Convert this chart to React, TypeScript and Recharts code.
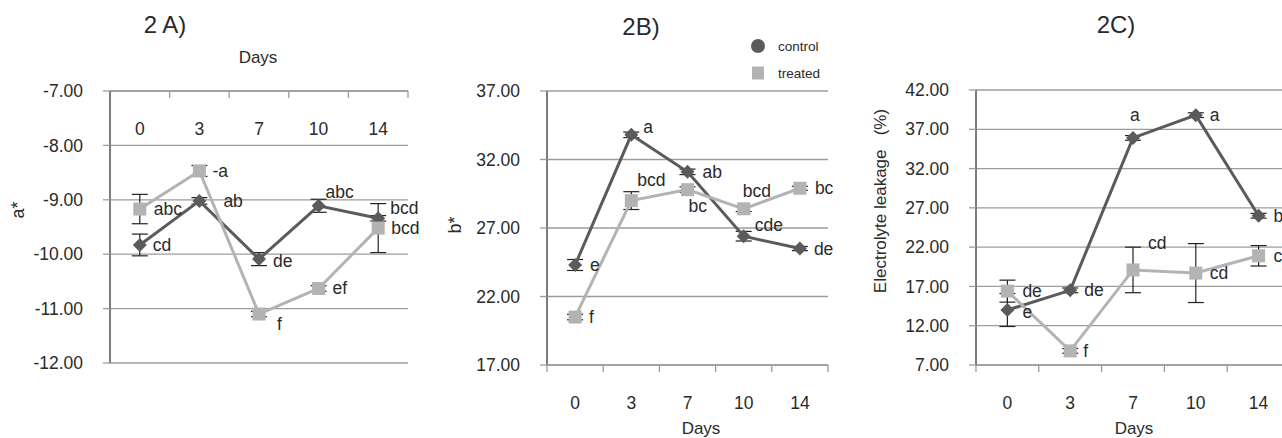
import React from "react";
import { LineChart, Line, XAxis, YAxis, CartesianGrid, ErrorBar, Legend } from "recharts";

// categories
const days = ["0", "3", "7", "10", "14"];
const seriesNames = ["control", "treated"];

// 2A) a*
const aControl = [-9.83, -9.02, -10.09, -9.11, -9.34];
const aTreated = [-9.17, -8.47, -11.1, -10.63, -9.52];
const aControlErr = [0.2, 0.06, 0.12, 0.12, 0.05];
const aTreatedErr = [0.27, 0.1, 0.05, 0.05, 0.45];
const aControlLetters = ["cd", "ab", "de", "abc", "bcd"];
const aTreatedLetters = ["abc", "-a", "f", "ef", "bcd"];
const aTicks = [-12, -11, -10, -9, -8, -7];

// 2B) b*
const bControl = [24.3, 33.8, 31.1, 26.4, 25.5];
const bTreated = [20.5, 29.0, 29.8, 28.4, 29.9];
const bControlErr = [0.4, 0.2, 0.2, 0.35, 0.15];
const bTreatedErr = [0.2, 0.65, 0.2, 0.2, 0.15];
const bControlLetters = ["e", "a", "ab", "cde", "de"];
const bTreatedLetters = ["f", "bcd", "bc", "bcd", "bc"];
const bTicks = [17, 22, 27, 32, 37];

// 2C) electrolyte leakage
const cControl = [14.0, 16.5, 35.9, 38.8, 26.0];
const cTreated = [16.4, 8.8, 19.1, 18.7, 20.9];
const cControlErr = [2.1, 0.3, 0.3, 0.3, 0.3];
const cTreatedErr = [1.4, 0.3, 2.9, 3.75, 1.3];
const cControlLetters = ["e", "de", "a", "a", "b"];
const cTreatedLetters = ["de", "f", "cd", "cd", "c"];
const cTicks = [7, 12, 17, 22, 27, 32, 37, 42];

// where each letter sits relative to its point (dx, dy)
const aControlOff = [[13, 0], [24, 0], [14, 2], [7, -14], [12, -10]];
const aTreatedOff = [[14, 0], [13, 0], [18, 10], [14, 0], [13, 0]];
const bControlOff = [[15, 0], [12, -8], [15, 0], [11, -11], [14, 0]];
const bTreatedOff = [[14, 0], [6, -21], [1, 16], [-1, -18], [15, 0]];
const cControlOff = [[15, 2], [14, 0], [-3, -23], [14, 0], [15, 0]];
const cTreatedOff = [[15, 0], [13, 0], [15, -27], [14, 0], [15, 0]];

const DARK = "#5b5b5b";
const LIGHT = "#b3b3b3";
const GRID = "#9c9c9c";
const TEXT = "#2a2a2a";
const FONT = "'Liberation Sans', Arial, sans-serif";

const buildRows = (ctrl: number[], trt: number[], ce: number[], te: number[]) =>
  days.map((d, i) => ({
    pos: i + 0.5,
    day: d,
    control: ctrl[i],
    treated: trt[i],
    cErr: ce[i],
    tErr: te[i],
  }));

const makeDot =
  (shape: "diamond" | "square", color: string, letters: string[], offs: number[][]) =>
  (p: any) => {
    const { cx, cy, index } = p;
    if (cx == null || cy == null) return <g key={`e${index}`} />;
    return (
      <g key={`d${index}`}>
        {shape === "diamond" ? (
          <path d={`M${cx},${cy - 7}L${cx + 7},${cy}L${cx},${cy + 7}L${cx - 7},${cy}Z`} fill={color} />
        ) : (
          <rect x={cx - 6.5} y={cy - 6.5} width={13} height={13} fill={color} />
        )}
        <text
          x={cx + offs[index][0]}
          y={cy + offs[index][1]}
          dy={6}
          fontSize={17.5}
          fontFamily={FONT}
          fill={TEXT}
        >
          {letters[index]}
        </text>
      </g>
    );
  };

const dayTick = (half: number, labelY: number) => (p: any) => {
  const v = p.payload?.value;
  if (v == null || v >= days.length) return <g />;
  return (
    <text x={p.x + half} y={labelY} textAnchor="middle" fontSize={17.5} fontFamily={FONT} fill={TEXT}>
      {days[v]}
    </text>
  );
};

const LegendBox = () => (
  <div style={{ fontFamily: FONT, fontSize: 13.5, color: TEXT }}>
    {seriesNames.map((n, i) => (
      <div key={n} style={{ display: "flex", alignItems: "center", height: 16, marginBottom: 11 }}>
        <svg width={16} height={16} style={{ marginRight: 12 }}>
          {i === 0 ? <circle cx={8} cy={8} r={7} fill={DARK} /> : <rect x={2} y={1.5} width={12} height={13} fill={LIGHT} />}
        </svg>
        <span>{n}</span>
      </div>
    ))}
  </div>
);

interface PanelProps {
  left: number;
  width: number;
  margin: { top: number; right: number; bottom: number; left: number };
  rows: any[];
  ticks: number[];
  top: boolean;
  half: number;
  labelY: number;
  cLetters: string[];
  tLetters: string[];
  cOff: number[][];
  tOff: number[][];
  legend?: boolean;
}

const Panel = (p: PanelProps) => (
  <div style={{ position: "absolute", left: p.left, top: 0 }}>
    <LineChart width={p.width} height={438} data={p.rows} margin={p.margin}>
      <CartesianGrid vertical={false} stroke={GRID} strokeWidth={1.3} />
      <XAxis
        type="number"
        dataKey="pos"
        domain={[0, days.length]}
        ticks={[0, 1, 2, 3, 4, 5]}
        interval={0}
        orientation={p.top ? "top" : "bottom"}
        mirror={p.top}
        height={p.top ? 30 : 40}
        tickSize={7}
        axisLine={{ stroke: GRID, strokeWidth: 1.5 }}
        tickLine={{ stroke: GRID, strokeWidth: 1.3 }}
        tick={dayTick(p.half, p.labelY)}
      />
      <YAxis
        width={60}
        domain={[p.ticks[0], p.ticks[p.ticks.length - 1]]}
        ticks={p.ticks}
        interval={0}
        tickSize={7}
        tickMargin={20}
        axisLine={{ stroke: "#7c7c7c", strokeWidth: 2 }}
        tickLine={{ stroke: GRID, strokeWidth: 1.3 }}
        tick={{ fontSize: 17.5, fill: TEXT, fontFamily: FONT }}
        tickFormatter={(v: number) => v.toFixed(2)}
      />
      {p.legend && (
        <Legend
          layout="horizontal"
          verticalAlign="middle"
          align="center"
          wrapperStyle={{ left: 320, top: 38, width: 110, height: 60 }}
          content={() => <LegendBox />}
        />
      )}
      <Line
        type="linear"
        dataKey="control"
        name={seriesNames[0]}
        stroke={DARK}
        strokeWidth={3}
        dot={makeDot("diamond", DARK, p.cLetters, p.cOff)}
        isAnimationActive={false}
      >
        <ErrorBar dataKey="cErr" width={8} stroke="#222" strokeWidth={1.2} direction="y" />
      </Line>
      <Line
        type="linear"
        dataKey="treated"
        name={seriesNames[1]}
        stroke={LIGHT}
        strokeWidth={3}
        dot={makeDot("square", LIGHT, p.tLetters, p.tOff)}
        isAnimationActive={false}
      >
        <ErrorBar dataKey="tErr" width={8} stroke="#222" strokeWidth={1.2} direction="y" />
      </Line>
    </LineChart>
  </div>
);

const Txt = ({ x, y, size, children, rotate }: any) => (
  <div
    style={{
      position: "absolute",
      left: x,
      top: y,
      transform: `translate(-50%, -50%)${rotate ? " rotate(-90deg)" : ""}`,
      fontSize: size,
      fontFamily: FONT,
      color: TEXT,
      whiteSpace: "pre",
      lineHeight: 1,
    }}
  >
    {children}
  </div>
);

export default function App() {
  return (
    <div
      style={{
        position: "fixed",
        left: 0,
        top: 0,
        width: 1282,
        height: 438,
        overflow: "hidden",
        background: "#fff",
      }}
    >
      <Panel
        left={0}
        width={430}
        margin={{ top: 91, right: 22, bottom: 75, left: 50 }}
        rows={buildRows(aControl, aTreated, aControlErr, aTreatedErr)}
        ticks={aTicks}
        top={true}
        half={29.8}
        labelY={135}
        cLetters={aControlLetters}
        tLetters={aTreatedLetters}
        cOff={aControlOff}
        tOff={aTreatedOff}
      />
      <Panel
        left={430}
        width={430}
        margin={{ top: 91, right: 32, bottom: 33, left: 57 }}
        rows={buildRows(bControl, bTreated, bControlErr, bTreatedErr)}
        ticks={bTicks}
        top={false}
        half={28.1}
        labelY={409}
        cLetters={bControlLetters}
        tLetters={bTreatedLetters}
        cOff={bControlOff}
        tOff={bTreatedOff}
        legend
      />
      <Panel
        left={860}
        width={440}
        margin={{ top: 90, right: 10, bottom: 33, left: 56 }}
        rows={buildRows(cControl, cTreated, cControlErr, cTreatedErr)}
        ticks={cTicks}
        top={false}
        half={31.4}
        labelY={409}
        cLetters={cControlLetters}
        tLetters={cTreatedLetters}
        cOff={cControlOff}
        tOff={cTreatedOff}
      />
      <Txt x={165} y={25} size={24}>2 A)</Txt>
      <Txt x={641} y={27} size={24}>2B)</Txt>
      <Txt x={1116} y={25} size={24}>2C)</Txt>
      <Txt x={258} y={57} size={17}>Days</Txt>
      <Txt x={701} y={428} size={17}>Days</Txt>
      <Txt x={1134} y={428} size={17}>Days</Txt>
      <Txt x={18} y={210} size={18} rotate>a*</Txt>
      <Txt x={455} y={225} size={18} rotate>b*</Txt>
      <Txt x={880} y={201} size={17} rotate>Electrolyte leakage   (%)</Txt>
    </div>
  );
}
